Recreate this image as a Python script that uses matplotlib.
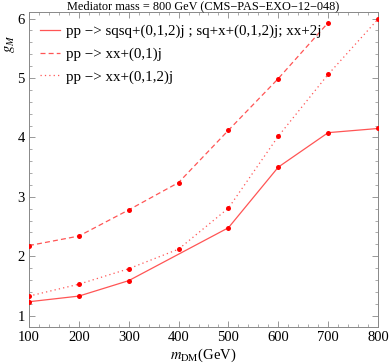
import matplotlib
matplotlib.use("Agg")
import matplotlib.pyplot as plt
from matplotlib.ticker import MultipleLocator

plt.rcParams['font.family'] = ['Liberation Serif', 'DejaVu Serif']
plt.rcParams['mathtext.fontset'] = 'stix'

m_dm = [100, 200, 300, 400, 500, 600, 700, 800]
m_dm_solid = [100, 200, 300, 500, 600, 700, 800]
g_solid = [1.235, 1.33, 1.59, 2.48, 3.50, 4.08, 4.15]
m_dm_dashed = [100, 200, 300, 400, 500, 600, 700]
g_dashed = [2.18, 2.34, 2.78, 3.24, 4.12, 4.99, 5.93]
g_dotted = [1.33, 1.53, 1.79, 2.12, 2.81, 4.02, 5.06, 5.99]

labels = ["pp \u2212> sqsq+(0,1,2)j ; sq+x+(0,1,2)j; xx+2j",
          "pp \u2212> xx+(0,1)j",
          "pp \u2212> xx+(0,1,2)j"]
title = "Mediator mass = 800 GeV (CMS\u2212PAS\u2212EXO\u221212\u2212048)"

fig = plt.figure(figsize=(3.89, 3.64), dpi=100)
ax = fig.add_axes([29/389, 1-327/364, (378-29)/389, (327-12)/364])

lc = '#ff5555'
ax.plot(m_dm_solid, g_solid, '-', color=lc, lw=0.9, label=labels[0])
ax.plot(m_dm_dashed, g_dashed, color=lc, lw=0.9, dashes=(4, 2.5), label=labels[1])
ax.plot(m_dm, g_dotted, color=lc, lw=0.9, dashes=(1, 2.5), label=labels[2])
for xs, ys in [(m_dm_solid, g_solid), (m_dm_dashed, g_dashed), (m_dm, g_dotted)]:
    ax.plot(xs, ys, 'o', color='red', ms=3.6, mew=0, zorder=5)

ax.set_xlim(100, 800)
ax.set_ylim(0.81, 6.11)
ax.xaxis.set_major_locator(MultipleLocator(100))
ax.xaxis.set_minor_locator(MultipleLocator(20))
ax.yaxis.set_major_locator(MultipleLocator(1))
ax.yaxis.set_minor_locator(MultipleLocator(0.2))
ax.tick_params(which='both', direction='in', top=True, right=True, color='#888888',
               labelsize=10.5, pad=3)
ax.tick_params(which='major', length=4, width=0.6)
ax.tick_params(which='minor', length=2, width=0.5)
for s in ax.spines.values():
    s.set_color('#888888')
    s.set_linewidth(0.7)

ax.set_title(title, fontsize=8.8, pad=1.5)
ax.set_xlabel(r"$m_{\mathrm{DM}}$(GeV)", fontsize=10.5, labelpad=2)
ax.set_ylabel(r"$g_M$", fontsize=10.5, labelpad=0)
ax.yaxis.set_label_coords(-0.035, 0.9)

leg = ax.legend(loc='upper left', frameon=False, fontsize=10.8, handlelength=1.35,
                handletextpad=0.35, borderaxespad=0.0, labelspacing=0.62,
                bbox_to_anchor=(0.015, 0.98))

fig.savefig("out.png", dpi=100)
